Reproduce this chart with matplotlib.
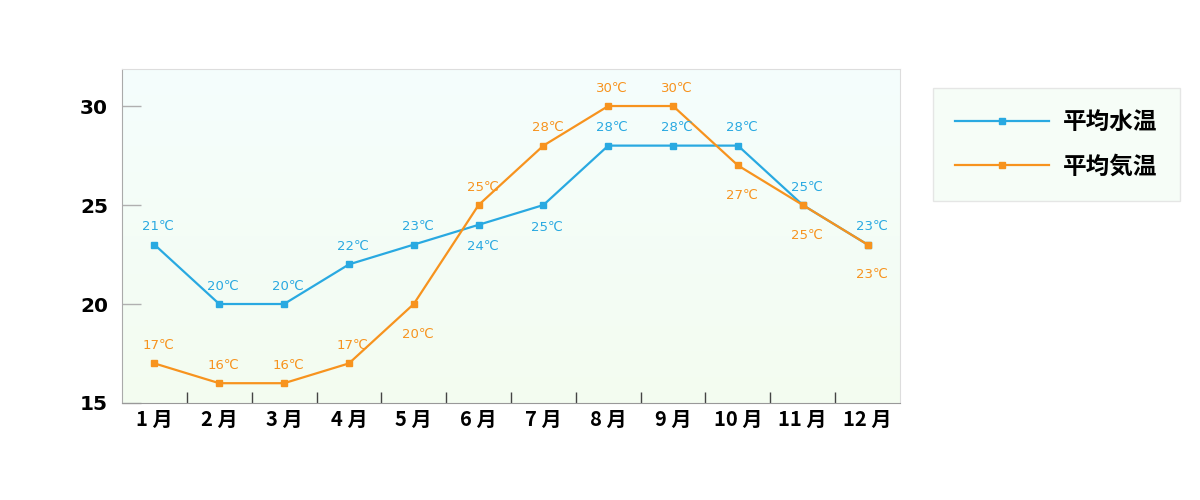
import matplotlib
matplotlib.use("Agg")
import matplotlib.pyplot as plt
import numpy as np
from matplotlib.lines import Line2D
from matplotlib.colors import LinearSegmentedColormap

plt.rcParams['font.family'] = ['Noto Sans CJK JP', 'DejaVu Sans']

months = ["1 月", "2 月", "3 月", "4 月", "5 月", "6 月", "7 月", "8 月", "9 月", "10 月", "11 月", "12 月"]
water = [23, 20, 20, 22, 23, 24, 25, 28, 28, 28, 25, 23]
water_labels = ["21℃", "20℃", "20℃", "22℃", "23℃", "24℃", "25℃", "28℃", "28℃", "28℃", "25℃", "23℃"]
water_pos = ["a", "a", "a", "a", "a", "b", "b", "a", "a", "a", "a", "a"]
air = [17, 16, 16, 17, 20, 25, 28, 30, 30, 27, 25, 23]
air_labels = ["17℃", "16℃", "16℃", "17℃", "20℃", "25℃", "28℃", "30℃", "30℃", "27℃", "25℃", "23℃"]
air_pos = ["a", "a", "a", "a", "b", "a", "a", "a", "a", "b", "b", "b"]
yticks = [15, 20, 25, 30]
series_names = ["平均水温", "平均気温"]

BLUE = "#29a9e1"
ORANGE = "#f7931e"
LABEL_FONT = ['DejaVu Sans', 'Noto Sans CJK JP']

fig = plt.figure(figsize=(12, 5), dpi=100)
ax = fig.add_axes([122/1200, 1-403/500, (900-122)/1200, (403-69)/500])

x = np.arange(len(months))
ax.set_xlim(-0.5, len(months) - 0.5)
ax.set_ylim(15, 31.87)

# gradient background
cmap = LinearSegmentedColormap.from_list("bg", ["#f3fcf0", "#f5fefd"])
grad = np.linspace(0, 1, 256).reshape(-1, 1)
ax.imshow(grad, cmap=cmap, aspect='auto', extent=[-0.5, len(months) - 0.5, 15, 31.87],
          origin='lower', zorder=0)

ax.plot(x, water, color=BLUE, lw=1.6, marker='s', ms=4.5, zorder=3)
ax.plot(x, air, color=ORANGE, lw=1.6, marker='s', ms=4.5, zorder=4)

for xi, v, lab, p in zip(x, water, water_labels, water_pos):
    dy = 18 if p == "a" else -22
    ax.annotate(lab, (xi, v), xytext=(4, dy), textcoords='offset pixels',
                ha='center', va='center', color=BLUE, fontsize=9.5,
                family=LABEL_FONT, zorder=5)
for xi, v, lab, p in zip(x, air, air_labels, air_pos):
    dy = 18 if p == "a" else -30
    ax.annotate(lab, (xi, v), xytext=(4, dy), textcoords='offset pixels',
                ha='center', va='center', color=ORANGE, fontsize=9.5,
                family=LABEL_FONT, zorder=5)

ax.set_yticks(yticks)
ax.set_yticklabels([str(t) for t in yticks], fontsize=14.5, fontweight='bold',
                   family=['DejaVu Sans'])
ax.tick_params(axis='y', direction='in', length=14, width=1, color='#b0b0b0', pad=10)

ax.set_xticks(x)
ax.set_xticklabels(months, fontsize=14.5, fontweight='bold')
ax.tick_params(axis='x', which='major', length=0, pad=4)
ax.set_xticks(np.arange(0.5, len(months) - 0.5, 1), minor=True)
ax.tick_params(axis='x', which='minor', direction='in', length=8, width=1, color='#444444')

for s in ['top', 'right']:
    ax.spines[s].set_color('#dddddd')
ax.spines['left'].set_color('#aaaaaa')
ax.spines['bottom'].set_color('#999999')

handles = [Line2D([], [], color=BLUE, lw=1.6, marker='s', ms=4),
           Line2D([], [], color=ORANGE, lw=1.6, marker='s', ms=4)]
leg = fig.legend(handles, series_names, loc='upper left',
                 bbox_to_anchor=(933/1200, 1-88/500), frameon=True,
                 prop={'size': 17, 'weight': 'bold', 'family': ['Noto Sans CJK JP']},
                 handlelength=3.95, handletextpad=0.6,
                 labelspacing=0.85, borderpad=0.95, borderaxespad=0, fancybox=False)
leg.get_frame().set_facecolor('#f4fdf6')
leg.get_frame().set_edgecolor('#e0e0e0')
leg.get_frame().set_linewidth(1)

fig.savefig("out.png", dpi=100)
